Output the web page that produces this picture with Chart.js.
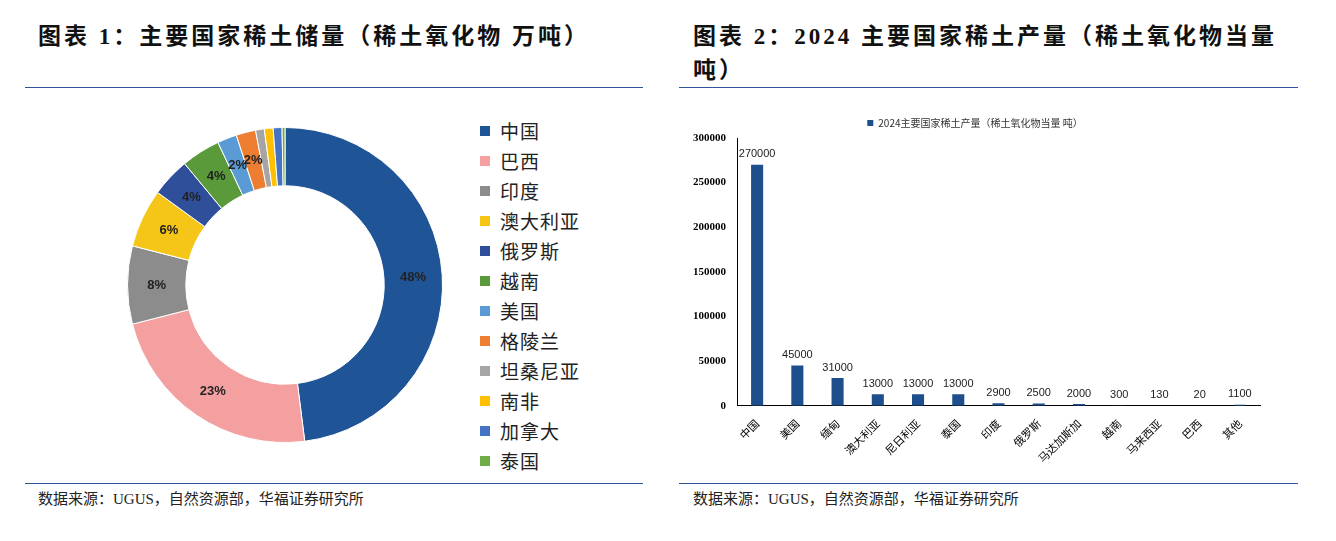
<!DOCTYPE html>
<html><head><meta charset="utf-8">
<script src="https://cdn.jsdelivr.net/npm/chart.js@4"></script>
<style>
body{margin:0;background:#fff;width:1336px;height:541px;position:relative;overflow:hidden;font-family:"Noto Serif CJK SC","Noto Sans CJK SC",serif;}
.t{position:absolute;font-weight:bold;font-size:23px;color:#111;line-height:34px;letter-spacing:3px;font-family:"Liberation Serif","Noto Sans CJK SC",serif}
.ln{position:absolute;height:1px;background:#2F5597}
.src{position:absolute;font-size:15px;color:#222;font-family:"Liberation Serif","Noto Sans CJK SC",serif}
#leg{position:absolute;left:480px;top:116px;font-size:19px;color:#222;letter-spacing:1px;font-family:"Noto Sans CJK SC"}
#leg div{height:30px;line-height:26px;display:flex;align-items:center}
#leg span{display:inline-block;width:10px;height:10px;margin-right:10px}
</style></head><body>
<div class="t" style="left:38px;top:20px">图表 1：主要国家稀土储量（稀土氧化物 万吨）</div>
<div class="t" style="left:693px;top:20px;width:610px">图表 2：2024 主要国家稀土产量（稀土氧化物当量<br>吨）</div>
<div class="ln" style="left:25px;top:87px;width:618px"></div>
<div class="ln" style="left:679px;top:87px;width:619px"></div>
<div class="ln" style="left:25px;top:483px;width:618px"></div>
<div class="ln" style="left:679px;top:483px;width:619px"></div>
<div class="src" style="left:38px;top:487px">数据来源：UGUS，自然资源部，华福证券研究所</div>
<div class="src" style="left:693px;top:487px">数据来源：UGUS，自然资源部，华福证券研究所</div>
<div style="position:absolute;left:100px;top:100px;width:370px;height:370px"><canvas id="c1"></canvas></div>
<div id="leg"></div>
<div style="position:absolute;left:690px;top:106px;width:600px;height:376px"><canvas id="c2"></canvas></div>
<script>
const reserveCountries=["中国","巴西","印度","澳大利亚","俄罗斯","越南","美国","格陵兰","坦桑尼亚","南非","加拿大","泰国"];
const reserveShares=[48,23,8,6,4,4,2,2,0.9,0.9,0.9,0.3];
const reserveColors=["#1F5597","#F4A0A0","#8C8C8C","#F5C518","#2F4F9A","#5A9A3A","#5B9BD5","#ED7D31","#A5A5A5","#FFC000","#4472C4","#70AD47"];
const prodCountries=["中国","美国","缅甸","澳大利亚","尼日利亚","泰国","印度","俄罗斯","马达加斯加","越南","马来西亚","巴西","其他"];
const prodValues=[270000,45000,31000,13000,13000,13000,2900,2500,2000,300,130,20,1100];
const yTicks=[0,50000,100000,150000,200000,250000,300000];

document.getElementById('leg').innerHTML=reserveCountries.map((c,i)=>`<div><span style="background:${reserveColors[i]}"></span>${c}</div>`).join('');

const pctLabels={id:'pct',afterDatasetsDraw(ch){const ctx=ch.ctx;const meta=ch.getDatasetMeta(0);ctx.save();ctx.font='bold 13px "Liberation Sans",Arial';ctx.fillStyle='#222';ctx.textAlign='center';ctx.textBaseline='middle';
meta.data.forEach((a,i)=>{const v=reserveShares[i];if(v<2)return;const p=a.tooltipPosition();ctx.fillText(Math.round(v)+'%',p.x,p.y);});ctx.restore();}};
new Chart(document.getElementById('c1'),{type:'doughnut',data:{labels:reserveCountries,datasets:[{data:reserveShares,backgroundColor:reserveColors,borderColor:'#fff',borderWidth:1}]},
options:{responsive:true,maintainAspectRatio:false,animation:false,cutout:'63%',layout:{padding:{left:27,right:27,top:22,bottom:22}},plugins:{legend:{display:false},tooltip:{enabled:false}}},plugins:[pctLabels]});

const valLabels={id:'vl',afterDatasetsDraw(ch){const ctx=ch.ctx;const meta=ch.getDatasetMeta(0);ctx.save();ctx.font='11px "Liberation Sans",Arial';ctx.fillStyle='#222';ctx.textAlign='center';ctx.textBaseline='bottom';
meta.data.forEach((b,i)=>ctx.fillText(String(prodValues[i]),b.x,b.y-5));ctx.restore();}};
new Chart(document.getElementById('c2'),{type:'bar',data:{labels:prodCountries,datasets:[{label:'2024主要国家稀土产量（稀土氧化物当量 吨）',data:prodValues,backgroundColor:'#1F4E8C',barPercentage:0.3,categoryPercentage:1}]},
options:{responsive:true,maintainAspectRatio:false,animation:false,layout:{padding:{right:30,top:0,bottom:14}},
plugins:{legend:{labels:{boxWidth:6,boxHeight:6,font:{size:10,family:'"Noto Sans CJK SC"'},color:'#333',padding:12}},tooltip:{enabled:false}},
scales:{y:{min:0,max:300000,afterBuildTicks(ax){ax.ticks=yTicks.map(v=>({value:v}));},grid:{display:false,drawTicks:true},border:{color:'#000'},ticks:{color:'#000',callback:v=>String(v),font:{size:11,weight:'bold',family:'"Liberation Serif"'}}},
x:{grid:{display:false},border:{color:'#000'},ticks:{color:'#000',maxRotation:45,minRotation:45,autoSkip:false,font:{size:11,family:'"Noto Sans CJK SC"'}}}}},plugins:[valLabels]});
</script></body></html>
